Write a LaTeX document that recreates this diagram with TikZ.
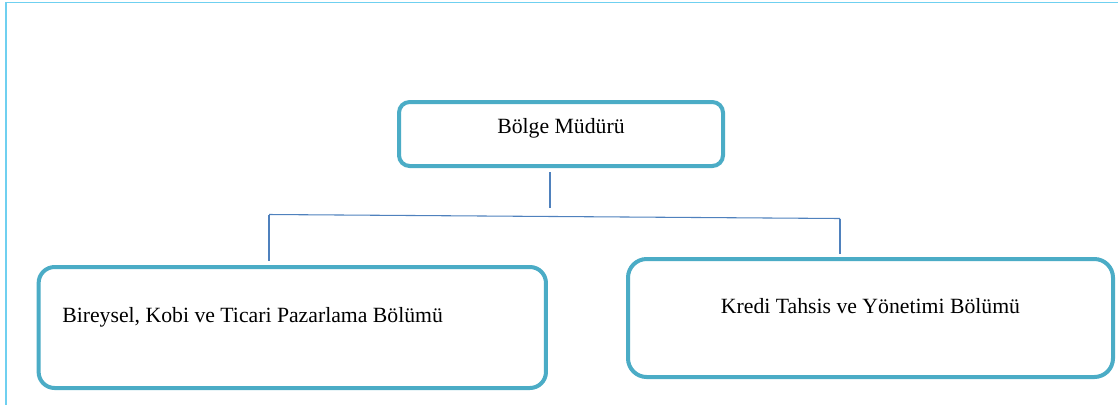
\documentclass[tikz,border=0pt]{standalone}
\usepackage{fontspec}
\setmainfont{Liberation Serif}
\usepackage{tikz}
\usetikzlibrary{positioning, calc}

\definecolor{boxteal}{HTML}{4BACC6}
\definecolor{linkblue}{HTML}{4F81BD}
\definecolor{framecyan}{HTML}{6FD0F0}

\begin{document}
\begin{tikzpicture}[x=0.75pt,y=-0.75pt,
    unit/.style={draw=boxteal,line width=3pt,rounded corners=12pt,fill=white,
                 font=\fontsize{16.3}{19}\selectfont,inner sep=0pt},
    conn/.style={draw=linkblue,line width=0.8pt},
    frame/.style={draw=framecyan,line width=1.4pt}]
  \useasboundingbox (0,0) rectangle (1118,405);
  % page frame
  \draw[frame] (5,2.5) -- (1118,2.5);
  \draw[frame] (6,2.5) -- (6,405);
  % top box
  \node[unit,rounded corners=8pt,minimum width=243pt,minimum height=48pt,
        text height=10pt,text depth=11pt] (mudur) at (561,134) {Bölge Müdürü};
  % departments
  \node[unit,minimum width=380.5pt,minimum height=90.75pt,text width=345pt,
        align=flush left,inner xsep=17.7pt,text height=10pt,text depth=18.2pt]
        (pazarlama) at (292.3,327.5) {Bireysel, Kobi ve Ticari Pazarlama Bölümü};
  \node[unit,rounded corners=14pt,minimum width=363.75pt,minimum height=88.5pt,
        text height=10pt,text depth=17pt] (kredi) at (870.5,318)
        {Kredi Tahsis ve Yönetimi Bölümü};
  % connectors
  \coordinate (drop) at (550,208);
  \coordinate (busL) at (269,214.5);
  \coordinate (busR) at (840,218.5);
  \draw[conn,shorten <=3pt] (drop |- mudur.south) -- (drop);
  \draw[conn] (busL) -- (busR);
  \draw[conn,shorten >=3pt] (busL) -- (busL |- pazarlama.north);
  \draw[conn,shorten >=2pt] (busR) -- (busR |- kredi.north);
\end{tikzpicture}
\end{document}
